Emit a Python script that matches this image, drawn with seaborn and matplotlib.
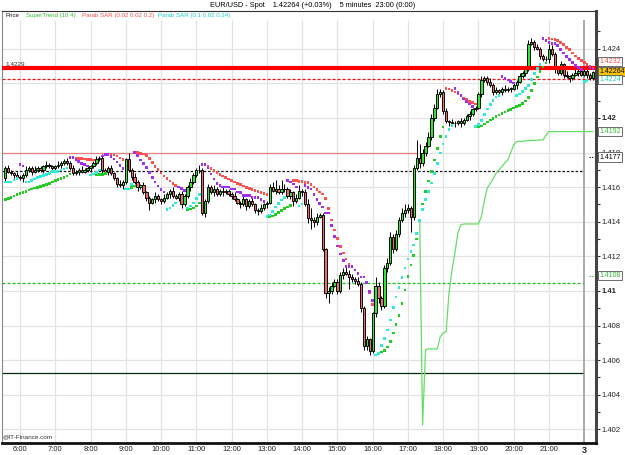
import numpy as np
import pandas as pd
import matplotlib
matplotlib.use("Agg")
import matplotlib.pyplot as plt
import matplotlib.transforms as mtransforms
import seaborn as sns

# ---------------- data (prices in pips above 1.4000) ----------------
first_open = 165
closes = [
    171, 169, 168, 167, 166,
    165, 167, 170, 171, 169, 170, 171, 170, 172, 173, 172, 171,
    172, 173, 174, 175, 174, 171, 168, 169, 170, 169, 170, 171,
    172, 174, 176, 177, 170, 169, 171, 168, 165, 162, 161, 163,
    176, 170, 166, 163, 160, 161, 157, 154, 151, 153, 155, 153,
    152, 154, 156, 158, 155, 154, 156, 150, 155, 160, 163, 167,
    170, 170, 145, 152, 160, 157, 159, 156, 158, 157, 158, 156,
    155, 153, 151, 150, 153, 149, 152, 150, 147, 146, 148, 150,
    151, 160, 158, 159, 157, 159, 159, 155, 157, 152, 154, 158,
    157, 150, 142, 141, 140, 143, 144, 124, 99, 100, 103, 105,
    100, 109, 111, 110, 108, 107, 106, 104, 90, 68, 72, 65,
    87, 103, 96, 91, 113, 116, 131, 124, 133, 141, 145, 147,
    148, 143, 171, 177, 174, 180, 184, 189, 200, 206, 214, 215,
    204, 198, 197.5, 197, 197, 198, 197, 199, 201, 202, 205, 206,
    214, 222, 223, 221, 219, 215, 216, 215, 217, 216, 217, 217,
    219, 221, 224, 226, 228, 243, 244, 241, 240, 236, 234, 234,
    240, 237, 228, 226, 231, 225, 224, 223, 225, 226, 227, 225,
    227, 225, 223, 226.4,
]
wick_up = [
    1, 2, 1, 1, 2,
    1, 1, 2, 1, 1, 2, 1, 1, 1, 2, 1, 1,
    1, 2, 1, 1, 2, 1, 2, 1, 1, 2, 1, 1,
    1, 1, 2, 1, 2, 1, 1, 2, 1, 1, 2, 1,
    1, 4, 1, 2, 1, 1, 2, 1, 1, 1, 2, 1,
    1, 2, 1, 1, 2, 1, 1, 2, 1, 1, 2, 1,
    1, 3, 1, 1, 2, 1, 2, 1, 1, 2, 1, 1,
    1, 2, 1, 1, 2, 1, 1, 2, 1, 1, 2, 1,
    1, 2, 3, 5, 2, 5, 3, 1, 2, 1, 2, 3,
    1, 2, 3, 6, 2, 2, 1, 1, 1, 2, 2, 2,
    2, 2, 2, 3, 2, 2, 1, 2, 1, 1, 2, 1,
    1, 5, 2, 1, 2, 3, 3, 2, 2, 2, 3, 3,
    2, 1, 2, 10, 8, 2, 2, 3, 2, 2, 3, 2,
    1, 2, 1, 2, 1, 1, 2, 1, 1, 2, 1, 1,
    1, 2, 1, 1, 2, 1, 2, 1, 1, 2, 1, 1,
    1, 1, 2, 1, 1, 2, 2, 1, 2, 1, 1, 2,
    3, 2, 1, 1, 2, 1, 2, 1, 1, 2, 1, 1,
    2, 1, 1, 1,
]
wick_dn = [
    2, 1, 1, 2, 1,
    1, 2, 1, 1, 2, 1, 1, 1, 2, 1, 1, 2,
    1, 1, 2, 1, 1, 1, 1, 1, 2, 1, 1, 1,
    2, 1, 1, 1, 2, 1, 2, 1, 1, 2, 1, 2,
    1, 1, 2, 1, 2, 1, 1, 2, 4, 1, 2, 1,
    2, 1, 1, 2, 1, 1, 2, 2, 1, 1, 2, 1,
    1, 2, 1, 2, 1, 1, 2, 1, 1, 2, 1, 1,
    2, 1, 1, 2, 1, 2, 1, 1, 2, 2, 1, 1,
    2, 1, 1, 2, 1, 1, 2, 1, 2, 3, 1, 1,
    2, 1, 3, 5, 3, 2, 1, 1, 3, 6, 2, 1,
    2, 1, 2, 1, 7, 2, 2, 1, 2, 2, 2, 2,
    1, 2, 3, 2, 1, 2, 1, 2, 1, 2, 1, 2,
    2, 9, 2, 1, 3, 2, 2, 1, 2, 2, 1, 2,
    2, 1, 2, 1, 2, 1, 2, 1, 1, 2, 1, 1,
    1, 2, 1, 2, 1, 2, 1, 1, 2, 1, 1, 2,
    1, 2, 1, 1, 2, 1, 1, 2, 1, 2, 1, 1,
    2, 1, 2, 1, 1, 2, 1, 2, 1, 1, 2, 1,
    1, 2, 1, 1,
]
supertrend_first_bar = 141
supertrend = [
    141, 22.5, 66, 66.5, 66.5, 66.5, 66.5, 73.5, 75.5, 76.5,
    99, 112, 122, 133.5, 138.2, 138.7, 138.7, 138.7, 138.7, 138.7,
    138.7, 143, 152, 159.5, 162, 165, 168, 170, 172, 174,
    175.7, 180, 184.4, 186.3, 186.5, 186.5, 186.7, 186.9, 187, 187,
    187.1, 187.2, 187.3, 190, 192.1, 192.1, 192.1, 192.1, 192.1, 192.1,
    192.1, 192.1, 192.1, 192.1, 192.1, 192.1, 192.1, 192.1, 192.1, 192.1,
]
# SAR state at the first bar: (uptrend, sar, extreme, af)
sar1_start = (True, 153.0, 171.0, 0.02)
sar2_start = (True, 163.0, 171.0, 0.10)
hour_bars = [5, 17, 29, 41, 53, 65, 77, 89, 101, 113, 125, 137, 149, 161, 173, 185, 197]
hour_labels = ["6:00", "7:00", "8:00", "9:00", "10:00", "11:00", "12:00", "13:00",
               "14:00", "15:00", "16:00", "17:00", "18:00", "19:00", "20:00", "21:00", "3"]
ytick_pips = [20, 40, 60, 80, 100, 120, 140, 160, 180, 200, 220, 240]
ytick_labels = ["1.402", "1.404", "1.406", "1.408", "1.41", "1.412", "1.414", "1.416",
                "1.418", "1.42", "", "1.424"]
level_names = ["pivot_thick", "red_dash", "salmon", "black_dash", "green_dash", "dark"]
level_pips = [229, 222.5, 180, 169.4, 104.6, 52.6]
box_texts = ["1.4232", "1.42264", "1.4224", "1.4192", "1.4177", "1.4108"]
box_pips = [232.4, 226.6, 222.0, 192.3, 177.4, 108.7]


def px(p):
    return 1.4 + np.asarray(p, dtype=float) / 10000.0


# ---------------- derived OHLC ----------------
c = np.array(closes, dtype=float)
o = np.concatenate([[first_open], c[:-1]])
hi = np.maximum(o, c) + np.array(wick_up)
lo = np.minimum(o, c) - np.array(wick_dn)
n = len(c)
bars = np.arange(n)


def psar(h, l, start, af0, step, afmax):
    trend, s, ep, af = start
    sar = np.zeros(len(h)); up = np.zeros(len(h), bool)
    sar[0] = s; up[0] = trend
    for i in range(1, len(h)):
        s = s + af * (ep - s)
        if trend:
            s = min(s, l[i - 1], l[max(i - 2, 0)])
            if l[i] < s:
                trend = False; s = ep; ep = l[i]; af = af0
            elif h[i] > ep:
                ep = h[i]; af = min(af + step, afmax)
        else:
            s = max(s, h[i - 1], h[max(i - 2, 0)])
            if h[i] > s:
                trend = True; s = ep; ep = h[i]; af = af0
            elif l[i] < ep:
                ep = l[i]; af = min(af + step, afmax)
        sar[i] = s; up[i] = trend
    return sar, up


sar1, up1 = psar(hi, lo, sar1_start, 0.02, 0.02, 0.2)
sar2, up2 = psar(hi, lo, sar2_start, 0.1, 0.02, 0.14)
sar_df = pd.DataFrame({
    "bar": np.concatenate([bars, bars]),
    "price": px(np.concatenate([sar1, sar2])),
    "kind": (["s1_up" if u else "s1_dn" for u in up1] + ["s2_up" if u else "s2_dn" for u in up2]),
})
st_df = pd.DataFrame({"bar": np.arange(supertrend_first_bar, supertrend_first_bar + len(supertrend)),
                      "price": px(supertrend)})

# ---------------- figure ----------------
sns.set_theme(style="white")
plt.rcParams['font.family'] = ['Liberation Sans', 'DejaVu Sans']
fig = plt.figure(figsize=(6.25, 4.55), dpi=100)
fig.patch.set_facecolor("white")
ax = fig.add_axes([2 / 625, 12 / 455, 594 / 625, 432 / 455])
ax.set_facecolor("white")
XL = (-1.12, 201.0)
YL = (1.40121, 1.42618)

# grid
ytick_vals = px(ytick_pips)
grid_top = 1.42566
for yv in ytick_vals:
    ax.axhline(yv, color="#e3e3e3", lw=0.9, zorder=0)
for b, lab in zip(hour_bars, hour_labels):
    if lab == "3":
        ax.vlines(b, YL[0], grid_top, color="#aaaaaa", lw=1.4, zorder=0)
    else:
        ax.vlines(b, YL[0], grid_top, color="#e3e3e3", lw=0.9, zorder=0)

# horizontal levels
lv = dict(zip(level_names, px(level_pips)))
ax.hlines(lv["dark"], XL[0], 196.6, color="#0b2a0b", lw=0.9, zorder=1)
ax.hlines(lv["green_dash"], XL[0], 196.6, color="#22bb22", lw=0.9, linestyles=(0, (2.5, 1.5)), zorder=1)
ax.hlines(lv["black_dash"], XL[0], 196.6, color="#111111", lw=0.9, linestyles=(0, (2, 1.5)), zorder=1)
ax.hlines(lv["salmon"], XL[0], 140.1, color="#e98080", lw=0.9, zorder=1)
ax.hlines(lv["red_dash"], XL[0], XL[1], color="#ee1111", lw=0.9, linestyles=(0, (2.5, 1.5)), zorder=1)
ax.hlines(lv["pivot_thick"], XL[0], XL[1], color="#ff0000", lw=3.0, zorder=5)

# supertrend
sns.lineplot(data=st_df, x="bar", y="price", color="#66dd66", lw=0.9, ax=ax, zorder=2,
             estimator=None, sort=False)

# candles: wicks then bodies
ax.vlines(bars, px(lo), px(hi), color="black", lw=0.7, zorder=3)
body_lo = px(np.minimum(o, c))
body_h = np.maximum(px(np.maximum(o, c)) - body_lo, 0.000015)
cols = ["#33e633" if cc >= oo else "#f06a6a" for oo, cc in zip(o, c)]
ax.bar(bars, body_h, bottom=body_lo, width=0.78, color=cols, edgecolor="black",
       linewidth=0.65, zorder=4)

# SAR dots
sns.scatterplot(data=sar_df, x="bar", y="price", hue="kind",
                palette={"s1_up": "#22cc22", "s1_dn": "#ff5050", "s2_up": "#30ead8", "s2_dn": "#a030f0"},
                marker="s", s=3.5, linewidth=0, legend=False, ax=ax, zorder=6)

# axes styling
ax.set_xlabel(""); ax.set_ylabel("")
ax.yaxis.tick_right()
ax.set_yticks(ytick_vals)
ax.set_yticklabels(ytick_labels)
for t in ax.get_yticklabels():
    t.set_fontsize(5.5); t.set_color("#222222")
    if t.get_text() in ("1.41", "1.42"):
        t.set_fontweight("bold")
ax.set_yticks(px([30, 50, 70, 90, 110, 130, 150, 170, 190, 210, 230, 250]), minor=True)
ax.tick_params(axis="y", which="major", right=True, left=False, length=3, width=0.8,
               color="#333333", pad=1.2)
ax.tick_params(axis="y", which="minor", right=True, left=False, length=3, width=0.8, color="#333333")
ax.set_xticks(hour_bars)
ax.set_xticklabels(hour_labels)
for t in ax.get_xticklabels():
    t.set_fontsize(5.5); t.set_color("#222222")
    if t.get_text() == "3":
        t.set_fontweight("bold"); t.set_fontsize(6.5)
ax.tick_params(axis="x", which="major", bottom=True, length=0, pad=2)
ax.set_xlim(*XL); ax.set_ylim(*YL)
for side in ["left", "top"]:
    ax.spines[side].set_color("#888888"); ax.spines[side].set_linewidth(0.8)
ax.spines["top"].set_color("#333333")
ax.spines["right"].set_color("#444444"); ax.spines["right"].set_linewidth(2.2)
ax.spines["bottom"].set_color("#111111"); ax.spines["bottom"].set_linewidth(2.0)

# right-side value boxes
trans = mtransforms.blended_transform_factory(ax.transAxes, ax.transData)
box_style = [("#e85050", "white"), ("black", "#f7c400"), ("#20d0c0", "white"),
             ("#33bb33", "white"), ("black", "white"), ("#33bb33", "white")]
for txt, pv, (fc_t, bg) in zip(box_texts, box_pips, box_style):
    ax.text(1.0055, px(pv), txt, transform=trans, fontsize=5.0, color=fc_t, ha="left", va="center",
            bbox=dict(boxstyle="square,pad=0.15", fc=bg, ec="#555555", lw=0.6), zorder=10, clip_on=False)
ax.hlines(px(177.4), 198.6, 200.4, color="#222222", lw=0.8, linestyles=(0, (1.2, 1)), zorder=7)
ax.hlines(px(108.7), 198.6, 200.4, color="#33bb33", lw=0.8, linestyles=(0, (1.2, 1)), zorder=7)

# texts
fig.text(0.5, 1 - 5.5 / 455, "EUR/USD - Spot    1.42264 (+0.03%)    5 minutes  23:00 (0:00)",
         ha="center", va="center", fontsize=5.3, color="#000000")
legend_items = [("Price", "#111111", 5), ("SuperTrend (10 4)", "#33bb33", 26),
                ("Parab SAR (0.02 0.02 0.2)", "#e85050", 82), ("Parab SAR (0.1 0.02 0.14)", "#20d0c0", 158)]
for txt, colr, xp in legend_items:
    fig.text(xp / 625, 1 - 15.5 / 455, txt, ha="left", va="center", fontsize=4.4, color=colr)
fig.text(5 / 625, 1 - 64 / 455, "1.4229", ha="left", va="center", fontsize=4.6, color="#333333")
fig.text(3 / 625, 1 - 437 / 455, "@IT-Finance.com", ha="left", va="center", fontsize=4.6, color="#333333")

fig.savefig("out.png", dpi=100, facecolor="white")
